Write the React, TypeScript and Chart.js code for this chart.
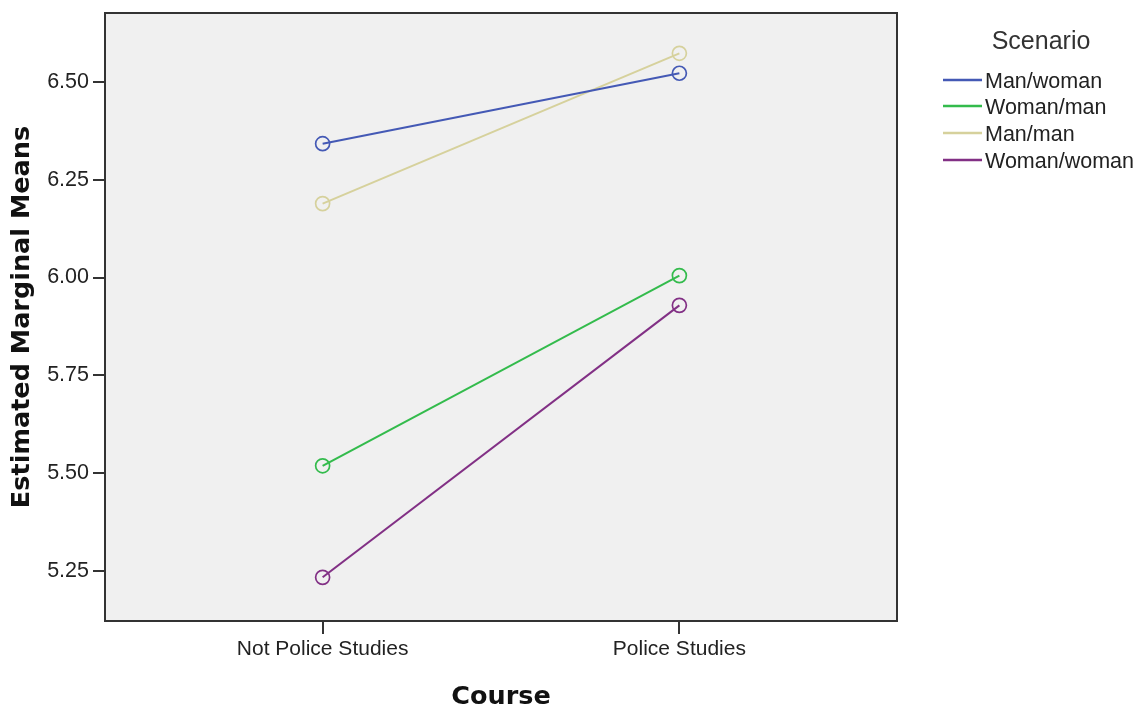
import React, { useEffect, useRef } from "react";
import { Chart, registerables } from "chart.js";

Chart.register(...registerables);

const categories = ["Not Police Studies", "Police Studies"];
const seriesNames = ["Man/woman", "Woman/man", "Man/man", "Woman/woman"];
const manWoman = [6.342, 6.522];
const womanMan = [5.519, 6.005];
const manMan = [6.189, 6.573];
const womanWoman = [5.234, 5.929];
const seriesColors = ["#4459b5", "#33bb4c", "#d6d19c", "#823085"];
const yTicks = [5.25, 5.5, 5.75, 6.0, 6.25, 6.5];
const yTitle = "Estimated Marginal Means";
const xTitle = "Course";
const legendTitle = "Scenario";

const W = 1143;
const H = 709;

export default function App() {
  const ref = useRef<HTMLCanvasElement | null>(null);

  useEffect(() => {
    if (!ref.current) return;
    const values = [manWoman, womanMan, manMan, womanWoman];
    const datasets = seriesNames.map((name, i) => ({
      label: name,
      data: values[i].map((v, j) => ({ x: j, y: v })),
      borderColor: seriesColors[i],
      backgroundColor: "transparent",
      borderWidth: 2,
      pointRadius: 7,
      pointBorderWidth: 1.7,
      pointBackgroundColor: "transparent",
      pointBorderColor: seriesColors[i],
      tension: 0,
    }));

    const framePlugin = {
      id: "frame",
      beforeDraw(chart: any) {
        const { ctx, chartArea } = chart;
        ctx.save();
        ctx.fillStyle = "#f0f0f0";
        ctx.fillRect(chartArea.left, chartArea.top, chartArea.right - chartArea.left, chartArea.bottom - chartArea.top);
        ctx.restore();
      },
      afterDraw(chart: any) {
        const { ctx, chartArea } = chart;
        ctx.save();
        ctx.strokeStyle = "#333333";
        ctx.lineWidth = 2;
        ctx.strokeRect(chartArea.left, chartArea.top, chartArea.right - chartArea.left, chartArea.bottom - chartArea.top);
        // legend
        ctx.fillStyle = "#333333";
        ctx.font = "25px 'Liberation Sans', Arial, sans-serif";
        ctx.textAlign = "center";
        ctx.textBaseline = "middle";
        ctx.fillText(legendTitle, 1041, 42);
        ctx.font = "21.5px 'Liberation Sans', Arial, sans-serif";
        ctx.textAlign = "left";
        const ys = [80, 106, 133, 160];
        seriesNames.forEach((name, i) => {
          ctx.strokeStyle = seriesColors[i];
          ctx.lineWidth = 2.5;
          ctx.beginPath();
          ctx.moveTo(943, ys[i]);
          ctx.lineTo(982, ys[i]);
          ctx.stroke();
          ctx.fillStyle = "#222222";
          ctx.fillText(name, 985, ys[i] + 2);
        });
        ctx.restore();
      },
    };

    const chart = new Chart(ref.current, {
      type: "line",
      data: { datasets },
      options: {
        animation: false,
        responsive: false,
        maintainAspectRatio: false,
        layout: { padding: { left: 0, top: 13, right: W - 897, bottom: 0 } },
        plugins: { legend: { display: false }, tooltip: { enabled: false } },
        scales: {
          x: {
            type: "linear",
            min: -0.61,
            max: 1.61,
            afterBuildTicks: (scale: any) => {
              scale.ticks = categories.map((_, i) => ({ value: i }));
            },
            afterFit: (scale: any) => {
              scale.height = H - 621;
              scale.paddingLeft = 0;
              scale.paddingRight = 0;
            },
            ticks: {
              callback: (v: any) => categories[Math.round(Number(v))] ?? "",
              color: "#222222",
              font: { family: "'Liberation Sans', Arial, sans-serif", size: 21 },
              padding: 3,
              maxRotation: 0,
              autoSkip: false,
            },
            grid: { drawOnChartArea: false, drawTicks: true, tickLength: 13, color: "#333333", lineWidth: 2 },
            border: { display: false },
            title: {
              display: true,
              text: xTitle,
              color: "#111111",
              font: { family: "'DejaVu Sans', sans-serif", size: 25.5, weight: "bold" },
              padding: { top: 0, bottom: -4 },
            },
          },
          y: {
            type: "linear",
            min: 5.1224,
            max: 6.676,
            afterBuildTicks: (scale: any) => {
              scale.ticks = yTicks.map((v) => ({ value: v }));
            },
            afterFit: (scale: any) => {
              scale.width = 105;
              scale.paddingTop = 0;
              scale.paddingBottom = 0;
            },
            ticks: {
              callback: (v: any) => Number(v).toFixed(2),
              color: "#222222",
              font: { family: "'Liberation Sans', Arial, sans-serif", size: 21.5 },
              padding: 4,
            },
            grid: { drawOnChartArea: false, drawTicks: true, tickLength: 12, color: "#333333", lineWidth: 2 },
            border: { display: false },
            title: {
              display: true,
              text: yTitle,
              color: "#111111",
              font: { family: "'DejaVu Sans', sans-serif", size: 25.5, weight: "bold" },
              padding: { top: 7, bottom: 0 },
            },
          },
        },
      },
      plugins: [framePlugin],
    } as any);
    return () => chart.destroy();
  }, []);

  return (
    <div style={{ position: "fixed", left: 0, top: 0, width: W, height: H, background: "#ffffff" }}>
      <canvas ref={ref} width={W} height={H} style={{ width: W, height: H, display: "block" }} />
    </div>
  );
}
